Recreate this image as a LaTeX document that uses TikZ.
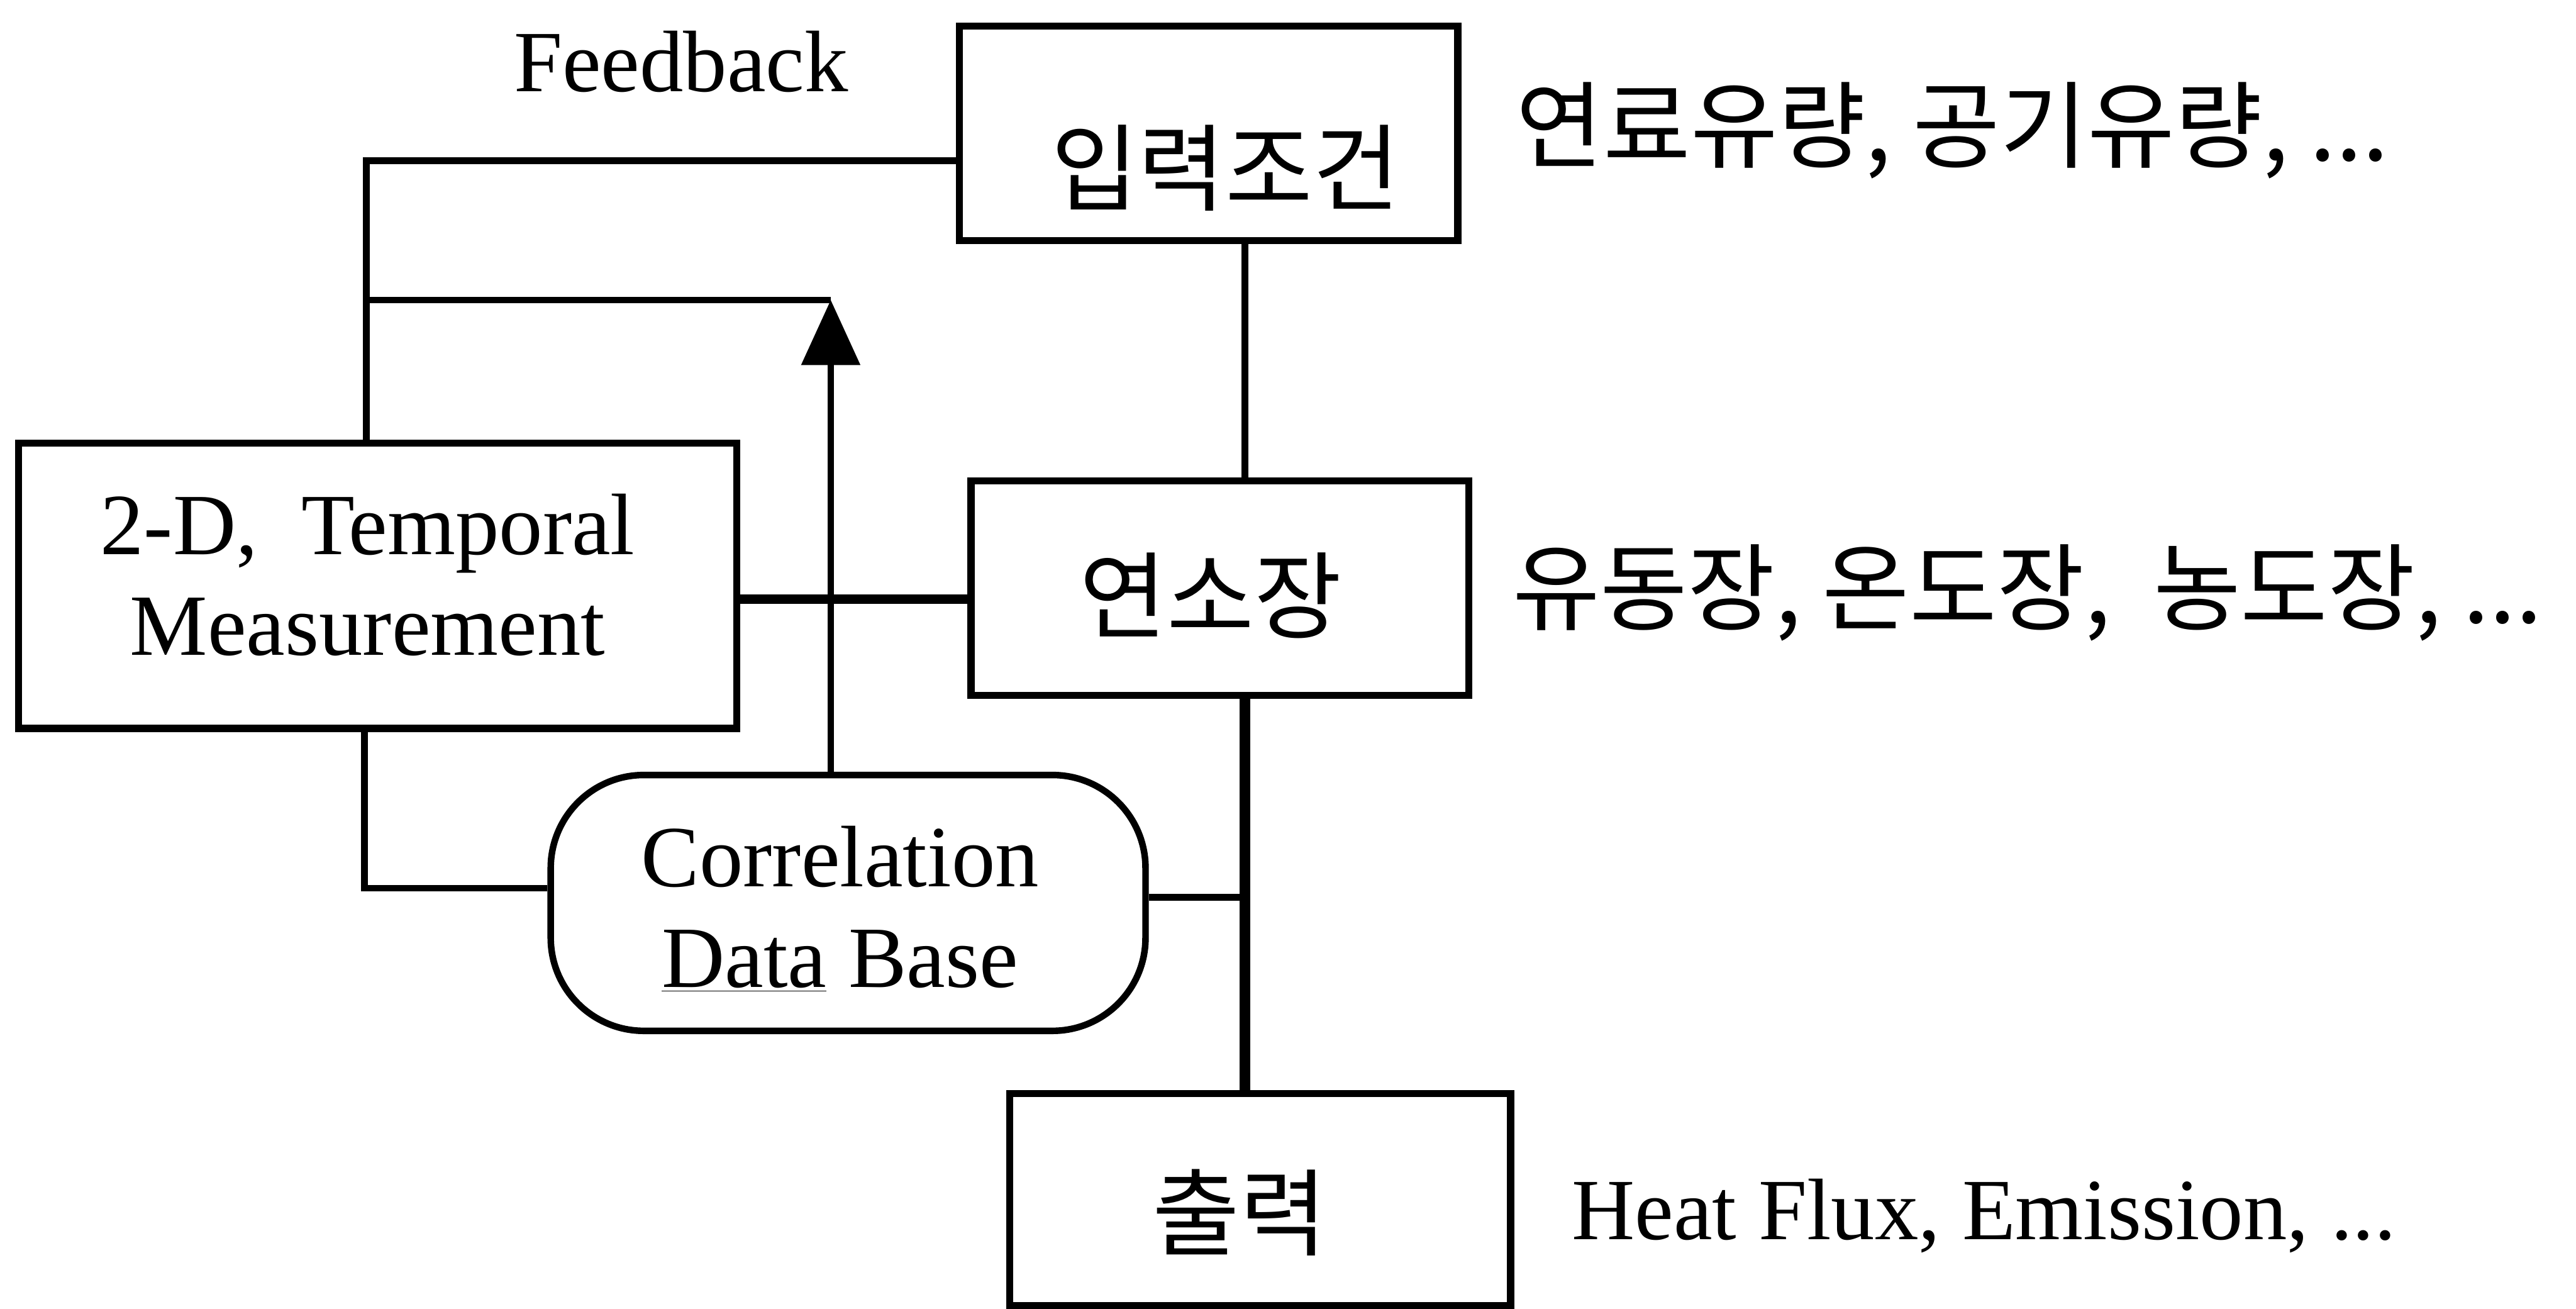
\documentclass[tikz,border=0pt]{standalone}
\usepackage{fontspec}
\setmainfont{Liberation Serif}
\newfontfamily\hangul{Noto Sans CJK KR}
\usepackage{tikz}
\usetikzlibrary{arrows.meta, positioning, calc}

\begin{document}
\begin{tikzpicture}[
  x=1cm, y=1cm, font=\fontsize{40}{46}\selectfont,
  every node/.style={inner sep=0pt},
  box/.style={draw, line width=3.2pt},
  dbbox/.style={draw, line width=3pt, rounded corners=1.5cm},
  wire/.style={line width=3pt},
  kr/.style={font=\hangul\fontsize{43.5}{50}\selectfont},
  >={Triangle[length=1.05cm, width=0.93cm]}
]
\useasboundingbox (0,0) rectangle (41.49,-21.07);
% boxes
\node[box, minimum width=8.03cm, minimum height=3.45cm] (inbox) at (19.465,-2.145) {};
\node[box, minimum width=8.02cm, minimum height=3.46cm] (combbox) at (19.65,-9.47) {};
\node[box, minimum width=11.57cm, minimum height=4.59cm] (measbox) at (6.085,-9.435) {};
\node[dbbox, minimum width=9.58cm, minimum height=4.12cm] (corrdb) at (13.66,-14.54) {};
\node[box, minimum width=8.07cm, minimum height=3.41cm] (outbox) at (20.295,-19.315) {};
% texts
\node[kr] (intxt) at (19.74,-2.70) {입력조건};
\node[kr] (combtxt) at (19.50,-9.59) {연소장};
\node[kr] (outtxt) at (19.97,-19.53) {출력};
\node[align=center] (meastxt) at (5.92,-9.26) {2-D,~ Temporal\\Measurement};
\node[align=center] (dbtxt) at (13.53,-14.64) {Correlation\\\underline{Data} Base};
\node[anchor=base] (fbtxt) at (10.97,-1.47) {Feedback};
\node[kr, anchor=west] (intail) at (24.41,-2.10) {연료유량, 공기유량, ...};
\node[kr, anchor=west] (combtail) at (24.36,-9.55) {유동장, 온도장,~ 농도장, ...};
\node[anchor=base west] (outtail) at (25.31,-19.96) {Heat Flux, Emission, ...};
% connectors
\coordinate (spine) at (20.05,0);
\coordinate (midline) at (0,-9.65);
\coordinate (dbjoin) at (20.05,-14.45);
\coordinate (fbcorner) at (5.90,-2.59);
\coordinate (fbmid) at (5.90,-4.83);
\coordinate (fbtip) at (13.38,-4.83);
\coordinate (dbleft) at (5.87,-14.30);
\draw[wire] (inbox.south -| spine) -- (combbox.north -| spine);
\draw[wire, line width=4.8pt] (combbox.south -| spine) -- (outbox.north -| spine);
\draw[wire, line width=4.2pt] (measbox.east |- midline) -- (combbox.west |- midline);
\draw[wire] (corrdb.east |- dbjoin) -- (dbjoin);
\draw[wire] (inbox.west |- fbcorner) -- (fbcorner) -- (fbcorner |- measbox.north);
\draw[wire] (fbmid) -- (fbtip);
\draw[wire, ->] (corrdb.north -| fbtip) -- (fbtip);
\draw[wire] (measbox.south -| dbleft) |- (corrdb.west |- dbleft);
\end{tikzpicture}
\end{document}
